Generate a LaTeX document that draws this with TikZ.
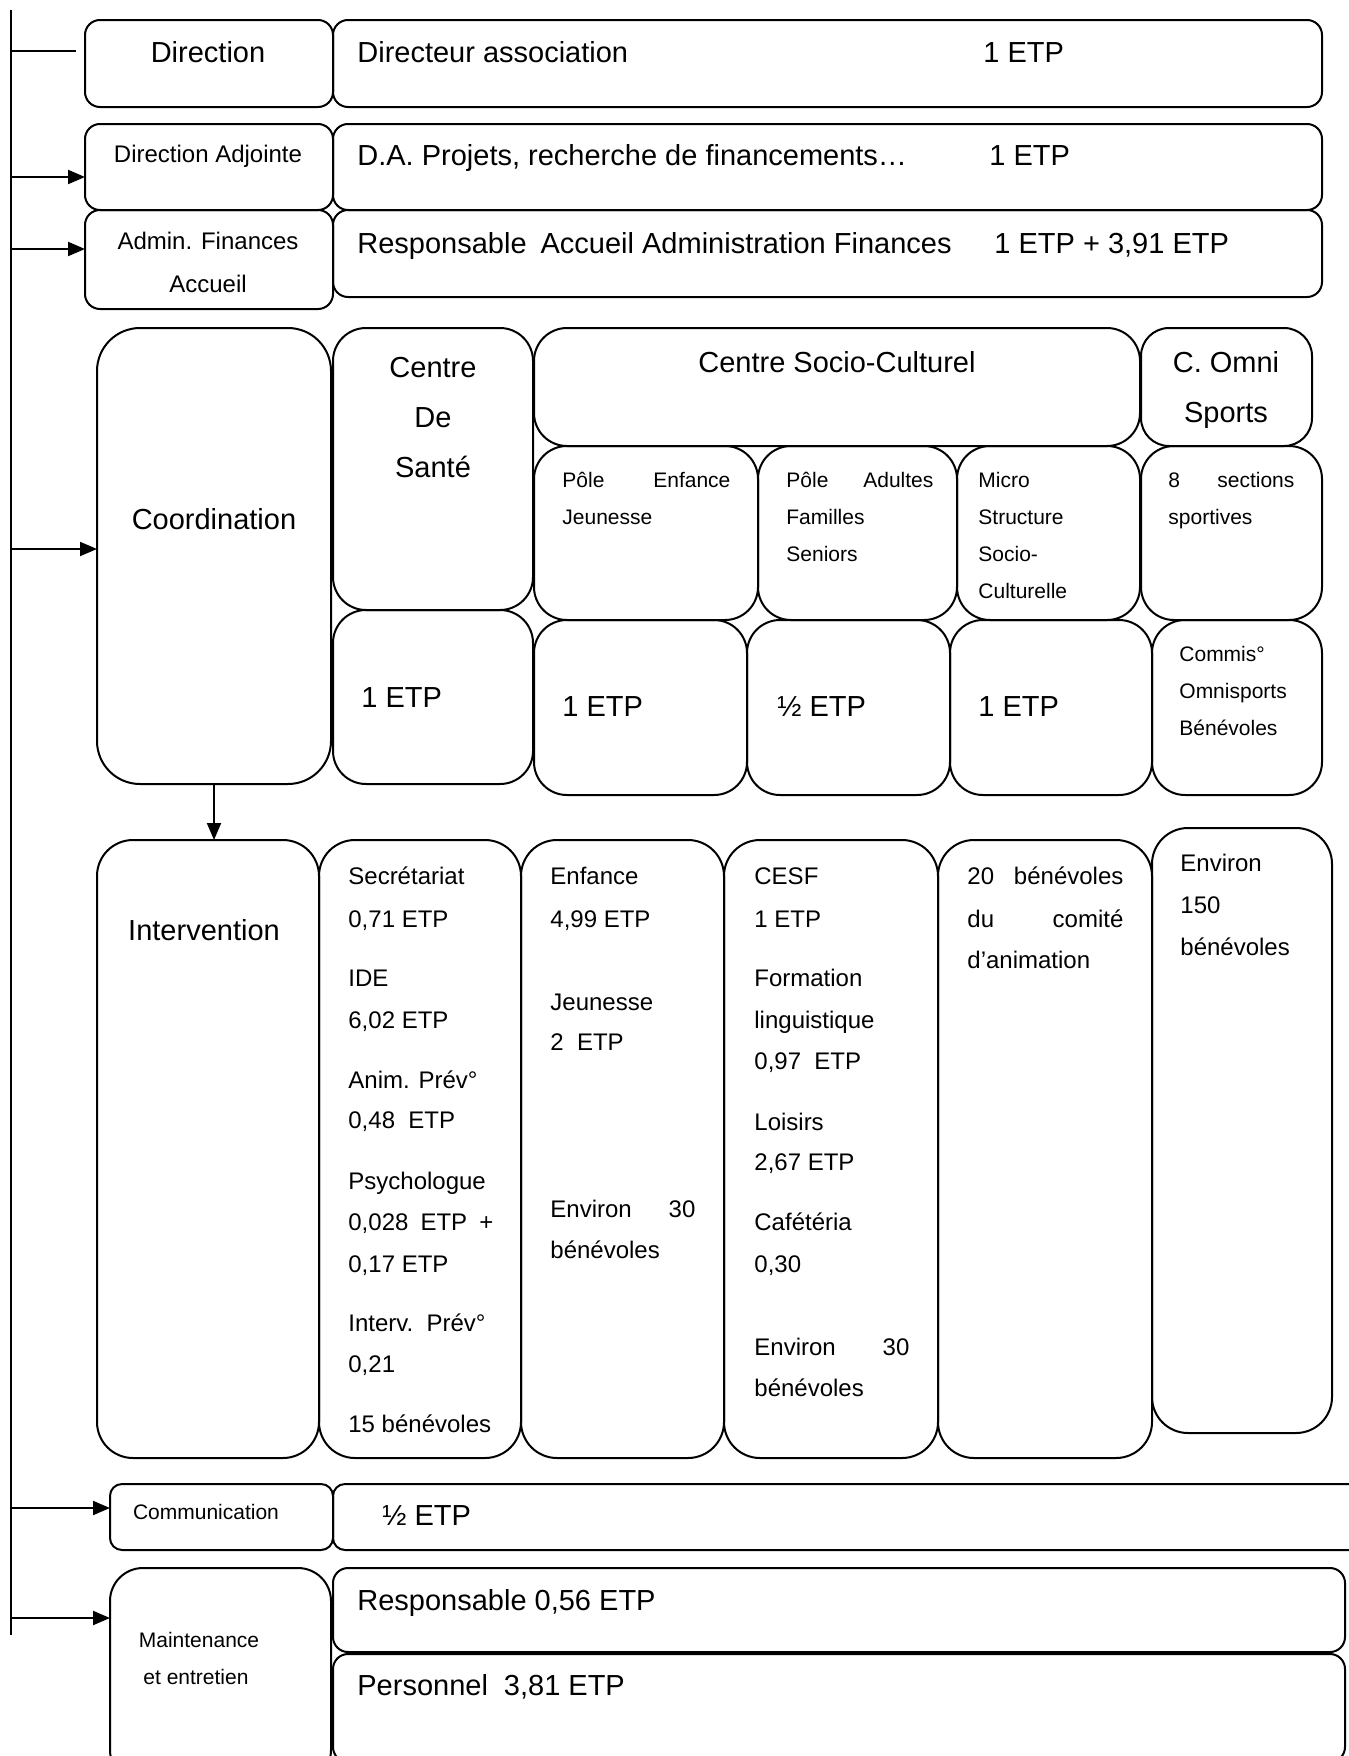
\documentclass[tikz,border=0pt]{standalone}
\usepackage{fontspec}
\setmainfont{Liberation Sans}
\usetikzlibrary{arrows.meta}
\newcommand{\fsL}{\fontsize{14.5}{25}\selectfont}
\newcommand{\fsM}{\fontsize{12}{20.75}\selectfont}
\newcommand{\fsS}{\fontsize{10.5}{18.5}\selectfont}
\newcommand{\mkbox}[6]{\node[box, rounded corners=#6, minimum width={0.5pt*(#4-#2)}, minimum height={0.5pt*(#5-#3)}] (#1) at ({(#2+#4)/2},{(#3+#5)/2}) {};}
\tikzset{
  box/.style={draw, line width=1pt, inner sep=0pt, outer sep=0pt},
  tl/.style={font=\fsL, inner sep=0pt, anchor=mid west, yshift=-1.5pt},
  tm/.style={font=\fsM, inner sep=0pt, anchor=mid west, yshift=-1.5pt},
  ts/.style={font=\fsS, inner sep=0pt, anchor=mid west, yshift=-1.5pt},
  ln/.style={line width=1pt},
  arr/.style={line width=1pt, -{Triangle[length=8.5pt,width=7pt]}},
}
\begin{document}
\begin{tikzpicture}[x=0.5pt,y=-0.5pt]
\path[use as bounding box] (0,0) rectangle (1349,1756);
\clip (0,0) rectangle (1349,1756);

% ---------- boxes ----------
\mkbox{dir}{85}{20}{333}{107}{7.5pt}
\mkbox{dirR}{333}{20}{1322}{107}{7.5pt}
\mkbox{da}{85}{124}{333}{210}{7.5pt}
\mkbox{daR}{333}{124}{1322}{210}{7.5pt}
\mkbox{adm}{85}{210}{333}{309}{7.5pt}
\mkbox{admR}{333}{210}{1322}{297}{7.5pt}

\mkbox{coord}{97}{328}{331}{784}{21.5pt}
\mkbox{santeT}{333}{328}{533}{610}{16.5pt}
\mkbox{santeB}{333}{610}{533}{784}{16.5pt}
\mkbox{csc}{534}{328}{1140}{446}{16.5pt}
\mkbox{omni}{1141}{328}{1312}{446}{14pt}
\mkbox{pej}{534}{446}{758}{620}{16.5pt}
\mkbox{pafs}{758}{446}{957}{620}{16.5pt}
\mkbox{ms}{957}{446}{1140}{620}{16.5pt}
\mkbox{sect}{1141}{446}{1322}{620}{16.5pt}
\mkbox{etpA}{534}{620}{747}{795}{16.5pt}
\mkbox{etpB}{747}{620}{950}{795}{16.5pt}
\mkbox{etpC}{950}{620}{1152}{795}{16.5pt}
\mkbox{cmo}{1152}{620}{1322}{795}{16.5pt}

\mkbox{interv}{97}{840}{319}{1458}{18pt}
\mkbox{isan}{319}{840}{521}{1458}{18pt}
\mkbox{ienf}{521}{840}{724}{1458}{18pt}
\mkbox{icesf}{724}{840}{938}{1458}{18pt}
\mkbox{iben}{938}{840}{1152}{1458}{18pt}
\mkbox{ienv}{1152}{828}{1332}{1433}{18pt}

\mkbox{comm}{110}{1484}{333}{1550}{6pt}
\mkbox{commR}{333}{1484}{1370}{1550}{6pt}
\mkbox{maint}{110}{1568}{331}{1783}{16.5pt}
\mkbox{resp}{333}{1568}{1345}{1652}{7.5pt}
\mkbox{pers}{333}{1654}{1345}{1762}{7.5pt}

% ---------- trunk and connectors ----------
\coordinate (tr0) at (11,10);
\coordinate (tr9) at (11,1635);
\draw[ln] (tr0) -- (tr9);
\coordinate (t1) at (11,51);
\coordinate (t1e) at (76,51);
\draw[ln] (t1) -- (t1e);
\coordinate (t2) at (11,177);
\draw[arr] (t2) -- (t2 -| da.west);
\coordinate (t3) at (11,249);
\draw[arr] (t3) -- (t3 -| adm.west);
\coordinate (t4) at (11,549);
\draw[arr] (t4) -- (t4 -| coord.west);
\coordinate (t5) at (11,1508);
\draw[arr] (t5) -- (t5 -| comm.west);
\coordinate (t6) at (11,1618);
\draw[arr] (t6) -- (t6 -| maint.west);
\draw[arr] (coord.south) -- (coord.south |- interv.north);

% ---------- texts: top rows ----------
\node[tl, anchor=mid] (xDir) at (208,54) {Direction};
\node[tl] (xDirR) at (357,54) {Directeur association};
\node[tl] (xDirE) at (983,54) {1 ETP};
\node[tm, anchor=mid] (xDa) at (208,154) {Direction Adjointe};
\node[tl] (xDaR) at (357,157) {D.A. Projets, recherche de financements…};
\node[tl] (xDaE) at (989,157) {1 ETP};
\node[tm, anchor=mid] (xAdm1) at (208,241) {Admin. Finances};
\node[tm, anchor=mid] (xAdm2) at (208,284) {Accueil};
\node[tl] (xAdmR) at (357,245) {Responsable\hspace{7pt}Accueil Administration Finances};
\node[tl] (xAdmE) at (994,245) {1 ETP + 3,91 ETP};

% ---------- coordination block ----------
\node[tl, anchor=mid] (xCoord) at (214,521) {Coordination};
\node[tl, anchor=mid] (xSan1) at (433,369) {Centre};
\node[tl, anchor=mid] (xSan2) at (433,419) {De};
\node[tl, anchor=mid] (xSan3) at (433,469) {Santé};
\node[tl] (xSanE) at (361,699) {1 ETP};
\node[tl, anchor=mid] (xCsc) at (837,364) {Centre Socio-Culturel};
\node[tl, anchor=mid] (xOm1) at (1226,364) {C. Omni};
\node[tl, anchor=mid] (xOm2) at (1226,414) {Sports};
\node[ts] (xPej1) at (562,479) {\makebox[84pt][s]{Pôle Enfance}};
\node[ts] (xPej2) at (562,516) {Jeunesse};
\node[ts] (xPa1) at (786,479) {\makebox[73.5pt][s]{Pôle Adultes}};
\node[ts] (xPa2) at (786,516) {Familles};
\node[ts] (xPa3) at (786,553) {Seniors};
\node[ts] (xMs1) at (978,479) {Micro};
\node[ts] (xMs2) at (978,516) {Structure};
\node[ts] (xMs3) at (978,553) {Socio-};
\node[ts] (xMs4) at (978,590) {Culturelle};
\node[ts] (xSe1) at (1168,479) {\makebox[63pt][s]{8 sections}};
\node[ts] (xSe2) at (1168,516) {sportives};
\node[tl] (xEa) at (562,708) {1 ETP};
\node[tl] (xEb) at (777,708) {½ ETP};
\node[tl] (xEc) at (978,708) {1 ETP};
\node[ts] (xCm1) at (1179,653) {Commis°};
\node[ts] (xCm2) at (1179,690) {Omnisports};
\node[ts] (xCm3) at (1179,727) {Bénévoles};

% ---------- intervention block ----------
\node[tl, anchor=mid] (xInt) at (204,932) {Intervention};
\foreach \yy/\tx [count=\i] in {874/Secrétariat, 917/{0,71 ETP}, 976/IDE, 1018/{6,02 ETP},
  1078/{Anim. Prév°}, 1118/{0,48~~ETP}, 1179/Psychologue, 1220/{\makebox[72.5pt][s]{0,028 ETP +}},
  1262/{0,17 ETP}, 1321/{Interv.~~Prév°}, 1362/{0,21}, 1422/{15 bénévoles}}
  \node[tm] (xSa\i) at (348,\yy+2) {\tx};
\foreach \yy/\tx [count=\i] in {874/Enfance, 917/{4,99 ETP}, 1000/Jeunesse, 1040/{2~~ETP},
  1207/{\makebox[72.5pt][s]{Environ 30}}, 1248/bénévoles}
  \node[tm] (xEn\i) at (550,\yy+2) {\tx};
\foreach \yy/\tx [count=\i] in {874/CESF, 917/{1 ETP}, 976/Formation, 1018/linguistique,
  1059/{0,97~~ETP}, 1120/Loisirs, 1160/{2,67 ETP}, 1220/Cafétéria, 1262/{0,30},
  1345/{\makebox[77.5pt][s]{Environ 30}}, 1386/bénévoles}
  \node[tm] (xCe\i) at (754,\yy+2) {\tx};
\foreach \yy/\tx [count=\i] in {874/{\makebox[78pt][s]{20 bénévoles}}, 917/{\makebox[78pt][s]{du comité}}, 958/{d’animation}}
  \node[tm] (xBe\i) at (967,\yy+2) {\tx};
\foreach \yy/\tx [count=\i] in {861/Environ, 903/150, 945/bénévoles}
  \node[tm] (xEv\i) at (1180,\yy+2) {\tx};

% ---------- communication / maintenance ----------
\node[ts, anchor=mid] (xCom) at (206,1511) {Communication};
\node[tl] (xComE) at (382,1517) {½ ETP};
\node[ts, anchor=mid] (xMa1) at (199,1639) {Maintenance};
\node[ts, anchor=mid] (xMa2) at (196,1676) {et entretien};
\node[tl] (xResp) at (357,1602) {Responsable 0,56 ETP};
\node[tl] (xPers) at (357,1687) {Personnel\hspace{8pt}3,81 ETP};
\end{tikzpicture}
\end{document}
